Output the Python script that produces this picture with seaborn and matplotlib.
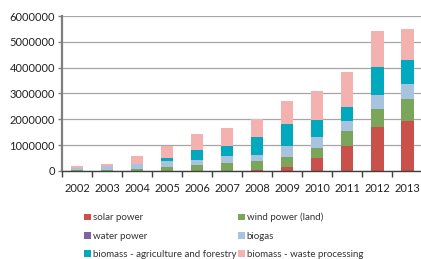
import numpy as np
import pandas as pd
import matplotlib
matplotlib.use('Agg')
import matplotlib.pyplot as plt
import seaborn as sns
from matplotlib.patches import Patch

# values
years = ['2002', '2003', '2004', '2005', '2006', '2007', '2008', '2009', '2010', '2011', '2012', '2013']
solar = [0, 0, 0, 0, 0, 10000, 30000, 160000, 490000, 960000, 1700000, 1930000]
wind = [30000, 50000, 90000, 140000, 230000, 290000, 340000, 370000, 390000, 570000, 710000, 840000]
water = [0, 0, 0, 0, 0, 0, 0, 0, 0, 0, 0, 0]
biogas = [90000, 140000, 180000, 250000, 200000, 260000, 260000, 450000, 420000, 400000, 520000, 590000]
biomass_agri = [0, 0, 10000, 130000, 400000, 400000, 680000, 820000, 670000, 540000, 1090000, 930000]
biomass_waste = [60000, 90000, 290000, 440000, 610000, 690000, 720000, 920000, 1120000, 1380000, 1390000, 1210000]

series = ['solar power', 'wind power (land)', 'water power', 'biogas',
          'biomass - agriculture and forestry', 'biomass - waste processing']
colors = ['#C9504B', '#7BA55A', '#8064A2', '#A7C3DE', '#00A9BD', '#F3B1B0']

df = pd.DataFrame({'year': years, 'solar power': solar, 'wind power (land)': wind,
                   'water power': water, 'biogas': biogas,
                   'biomass - agriculture and forestry': biomass_agri,
                   'biomass - waste processing': biomass_waste})

sns.set_style('white')
plt.rcParams['font.family'] = ['Lato', 'DejaVu Sans']

fig = plt.figure(figsize=(4.21, 2.59), dpi=100)
ax = fig.add_axes([0.147, 0.34, 0.856, 0.598])

bottom = np.zeros(len(years))
for name, col in zip(series, colors):
    sns.barplot(data=df, x='year', y=name, color=col, bottom=bottom, width=0.42,
                ax=ax, linewidth=0, saturation=1, errorbar=None)
    bottom += df[name].values

ax.set_ylim(0, 6000000)
ax.set_xlim(-0.5, len(years) - 0.5)
ax.set_yticks(range(0, 6000001, 1000000))
ax.set_yticklabels([str(v) for v in range(0, 6000001, 1000000)])
ax.yaxis.grid(True, color='#A6A6A6', linewidth=0.9)
ax.set_axisbelow(True)
ax.set_xlabel('')
ax.set_ylabel('')

for s in ['top', 'right']:
    ax.spines[s].set_visible(False)
ax.spines['left'].set_color('#7F7F7F')
ax.spines['left'].set_linewidth(1.6)
ax.spines['bottom'].set_color('#404040')
ax.spines['bottom'].set_linewidth(1.0)

ax.tick_params(axis='y', left=True, length=3, width=1, color='#7F7F7F',
               labelsize=8, labelcolor='#222222', pad=2)
ax.tick_params(axis='x', bottom=False, labelsize=8, labelcolor='#222222', pad=5)
ax.set_xticks(np.arange(-0.5, len(years)), minor=True)
ax.tick_params(axis='x', which='minor', bottom=True, length=4, width=1, color='#404040')

handles = [Patch(facecolor=c, edgecolor='none') for c in colors]
order = [0, 2, 4, 1, 3, 5]
fig.legend([handles[i] for i in order], [series[i] for i in order],
           loc='upper left', bbox_to_anchor=(0.2, 0.178), ncol=2, frameon=False,
           fontsize=7, handlelength=0.7, handleheight=0.7, handletextpad=0.2,
           labelspacing=0.95, columnspacing=0.15, borderaxespad=0, borderpad=0,
           labelcolor='#333333')

fig.savefig('out.png', dpi=100)
